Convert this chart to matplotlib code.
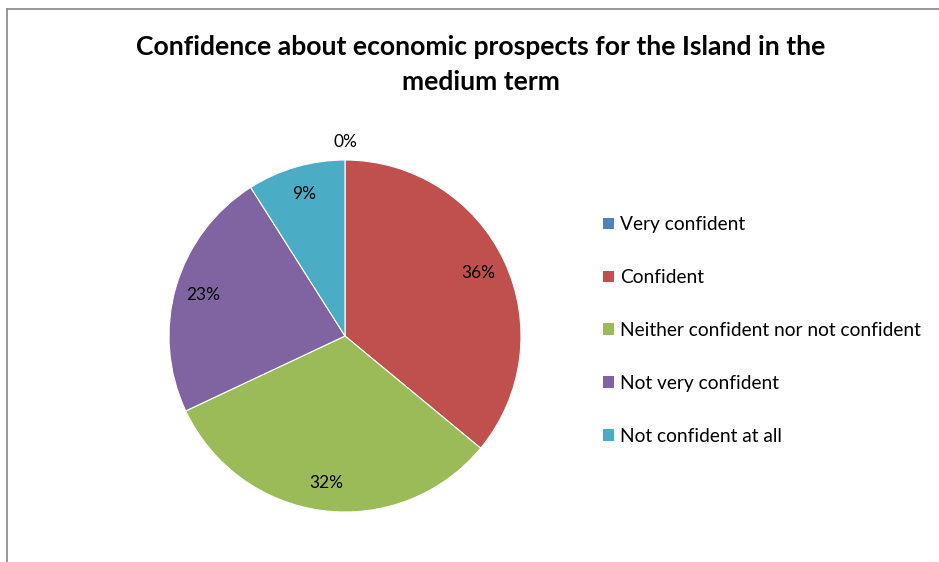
import numpy as np
import matplotlib.pyplot as plt
from matplotlib.patches import Patch
from matplotlib.lines import Line2D

plt.rcParams['font.family'] = ['Lato', 'DejaVu Sans']

categories = ["Very confident", "Confident", "Neither confident nor not confident",
              "Not very confident", "Not confident at all"]
shares = [0, 36, 32, 23, 9]
colors = ["#4F81BD", "#C0504D", "#9BBB59", "#8064A2", "#4BACC6"]

W, H = 939, 562
fig = plt.figure(figsize=(W / 100, H / 100), dpi=100)

# chart area border (top and left edges)
fig.add_artist(Line2D([7 / W, 7 / W], [0, 1 - 9 / H], transform=fig.transFigure,
                      color="#909090", lw=1.3))
fig.add_artist(Line2D([7 / W, 1], [1 - 9 / H, 1 - 9 / H], transform=fig.transFigure,
                      color="#909090", lw=1.3))

fig.text(481 / W, 1 - 47 / H, "Confidence about economic prospects for the Island in the",
         ha="center", va="center", fontsize=19.1, fontweight="bold")
fig.text(481 / W, 1 - 82 / H, "medium term",
         ha="center", va="center", fontsize=19.1, fontweight="bold")

cx, cy, r = 345, 336, 176
ax = fig.add_axes([(cx - r) / W, 1 - (cy + r) / H, 2 * r / W, 2 * r / H])
wedges, texts, autotexts = ax.pie(shares, colors=colors, startangle=90, counterclock=False,
                                  autopct=lambda p: "%d%%" % round(p), pctdistance=0.84,
                                  wedgeprops=dict(linewidth=0.8, edgecolor="white"),
                                  textprops=dict(fontsize=12.5, color="black"))
ax.set_xlim(-1, 1)
ax.set_ylim(-1, 1)
ax.set_aspect("equal")

# empty slices get their label just outside the rim
for w, t, v in zip(wedges, autotexts, shares):
    if v == 0:
        ang = np.deg2rad((w.theta1 + w.theta2) / 2)
        t.set_position((1.1 * np.cos(ang), 1.1 * np.sin(ang)))

handles = [Patch(facecolor=c, edgecolor="none") for c in colors]
fig.legend(handles, categories, loc="center left", bbox_to_anchor=(603 / W, 1 - 330.5 / H),
           frameon=False, fontsize=13.8, handlelength=0.55, handleheight=0.55,
           handletextpad=0.35, labelspacing=1.87, borderpad=0, borderaxespad=0)

fig.savefig("out.png", dpi=100)
